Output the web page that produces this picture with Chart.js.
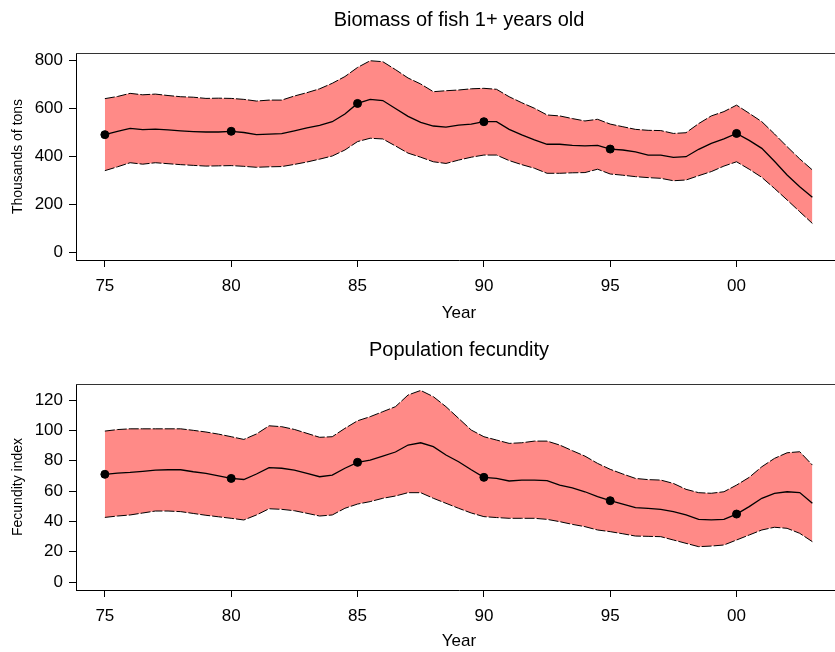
<!DOCTYPE html>
<html>
<head>
<meta charset="utf-8">
<script src="https://cdn.jsdelivr.net/npm/chart.js@4.4.0/dist/chart.umd.min.js"></script>
<style>
html, body { margin: 0; padding: 0; background: #fff; overflow: hidden; width: 835px; height: 652px; }
canvas { display: block; }
</style>
</head>
<body>
<canvas id="biomassChart" width="847" height="326"></canvas>
<canvas id="fecundityChart" width="847" height="326"></canvas>
<script>
// Half-year steps, 1975 to 2003
const years = [1975, 1975.5, 1976, 1976.5, 1977, 1977.5, 1978, 1978.5, 1979, 1979.5,
  1980, 1980.5, 1981, 1981.5, 1982, 1982.5, 1983, 1983.5, 1984, 1984.5,
  1985, 1985.5, 1986, 1986.5, 1987, 1987.5, 1988, 1988.5, 1989, 1989.5,
  1990, 1990.5, 1991, 1991.5, 1992, 1992.5, 1993, 1993.5, 1994, 1994.5,
  1995, 1995.5, 1996, 1996.5, 1997, 1997.5, 1998, 1998.5, 1999, 1999.5,
  2000, 2000.5, 2001, 2001.5, 2002, 2002.5, 2003];

// Biomass of fish 1+ (thousands of tons)
const biomassMid = [489, 503, 515, 510, 512, 509, 505, 502, 500, 500,
  503, 498, 489, 491, 493, 505, 517, 528, 543, 575,
  619, 636, 631, 598, 565, 540, 525, 520, 529, 533,
  543, 543, 511, 488, 467, 449, 449, 444, 442, 444,
  429, 425, 417, 404, 404, 394, 397, 428, 453, 471,
  494, 465, 432, 378, 321, 272, 228];
const biomassUpper = [639, 648, 661, 655, 658, 652, 647, 645, 640, 641,
  640, 636, 629, 633, 633, 650, 664, 680, 703, 731,
  769, 797, 793, 760, 725, 700, 668, 672, 675, 680,
  682, 678, 647, 622, 599, 571, 567, 556, 546, 553,
  533, 522, 511, 507, 506, 494, 497, 535, 567, 585,
  612, 578, 543, 492, 439, 388, 342];
const biomassLower = [339, 355, 372, 366, 372, 368, 364, 361, 358, 359,
  360, 357, 353, 355, 356, 365, 375, 387, 400, 425,
  460, 474, 471, 442, 412, 395, 376, 369, 383, 395,
  404, 404, 381, 364, 349, 328, 328, 330, 331, 345,
  325, 320, 314, 310, 307, 297, 300, 318, 335, 358,
  376, 345, 311, 265, 217, 168, 119];

// Population fecundity index
const fecundMid = [71, 71.8, 72.3, 73, 73.8, 74, 74, 72.7, 71.6, 70,
  68.3, 67.6, 71.2, 75.4, 75, 73.8, 71.6, 69.4, 70.5, 75,
  78.9, 80.4, 83, 85.7, 90.3, 91.8, 89.2, 83.7, 79.3, 74,
  69, 68.3, 66.6, 67.2, 67.2, 66.8, 63.9, 62, 59.5, 56.3,
  53.6, 51.4, 49, 48.5, 47.9, 46.4, 44.2, 41.3, 40.9, 41.3,
  44.8, 49.7, 55.2, 58.5, 59.5, 59, 51.9];
const fecundUpper = [99.5, 100.5, 101, 101, 101, 101, 101, 100, 98.9, 97.5,
  95.8, 94, 97.6, 103, 102.4, 100.6, 98, 95.4, 95.8, 101.3,
  106.3, 109, 112.3, 115.6, 123.3, 126.3, 122.2, 115.6, 107.9, 100.2,
  95.8, 93.6, 91.4, 91.8, 92.9, 92.9, 90.3, 86.6, 83, 78.2,
  74.3, 71.2, 68.3, 67.5, 67.2, 65, 61.1, 58.9, 58.5, 59.5,
  63.9, 69, 76, 81.5, 85.2, 85.9, 77.1];
const fecundLower = [42.6, 43.5, 44.2, 45.5, 46.8, 46.8, 46.4, 45.2, 44, 43,
  42, 40.9, 44.2, 48.3, 47.9, 47, 45.3, 43.5, 44.2, 48.6,
  51.4, 53, 55.2, 56.7, 58.9, 58.9, 55.2, 51.9, 48.6, 45.5,
  43.1, 42.5, 42, 42, 42, 41.3, 39.8, 38, 36.5, 34.3,
  33.2, 31.8, 30.3, 30.1, 29.9, 27.7, 25.5, 23.3, 23.7, 24.4,
  27.7, 31, 34.3, 36.1, 35.4, 32.1, 26.6];

const markYears = [1975, 1980, 1985, 1990, 1995, 2000];
const yearTicks = [1975, 1980, 1985, 1990, 1995, 2000];
const biomassTicks = [0, 200, 400, 600, 800];
const fecundTicks = [0, 20, 40, 60, 80, 100, 120];

Chart.defaults.font.family = '"Liberation Sans", Arial, sans-serif';
Chart.defaults.color = '#000';

// top edge of the plot box (left and bottom come from the axes)
const boxTop = {
  id: 'boxTop',
  afterDraw(chart) {
    const { ctx, chartArea: a } = chart;
    ctx.save();
    ctx.strokeStyle = '#333';
    ctx.lineWidth = 1;
    ctx.beginPath();
    ctx.moveTo(a.left, Math.round(a.top) + 0.5);
    ctx.lineTo(a.right, Math.round(a.top) + 0.5);
    ctx.stroke();
    ctx.restore();
  }
};

function pts(vals) {
  return years.map((x, i) => ({ x: x, y: vals[i] }));
}

function createPanel(canvasId, p) {
  const ctx = document.getElementById(canvasId).getContext('2d');
  const marks = markYears.map(y => ({ x: y, y: p.mid[years.indexOf(y)] }));
  new Chart(ctx, {
    type: 'line',
    data: {
      datasets: [
        { data: pts(p.mid), borderColor: '#000', borderWidth: 1.3, pointRadius: 0, fill: false },
        { data: marks, showLine: false, pointRadius: 4, pointBackgroundColor: '#000', pointBorderColor: '#000', fill: false },
        { data: pts(p.upper), borderColor: '#000', borderWidth: 1, borderDash: [10, 2], pointRadius: 0,
          fill: '+1', backgroundColor: '#ff8a87' },
        { data: pts(p.lower), borderColor: '#000', borderWidth: 1, borderDash: [10, 2], pointRadius: 0, fill: false }
      ]
    },
    options: {
      responsive: false,
      animation: false,
      layout: { padding: 0 },
      plugins: {
        legend: { display: false },
        tooltip: { enabled: false },
        filler: { drawTime: 'beforeDatasetsDraw' },
        title: {
          display: true,
          text: p.title,
          fullSize: false,
          font: { size: 20, weight: 'normal' },
          padding: { top: p.titleTop, bottom: p.titleBottom }
        }
      },
      scales: {
        x: {
          type: 'linear',
          min: 1973.858,
          max: 2004.173,
          afterBuildTicks: s => { s.ticks = yearTicks.map(v => ({ value: v })); },
          afterFit: s => { s.height = p.xHeight; },
          ticks: {
            font: { size: 17 },
            padding: 9,
            maxRotation: 0,
            callback: v => String(v % 100).padStart(2, '0')
          },
          grid: { drawOnChartArea: false, tickLength: 7, color: '#000' },
          border: { color: '#000', width: 1 },
          title: { display: true, text: 'Year', font: { size: 17 }, padding: { top: 0, bottom: p.yearPad } }
        },
        y: {
          min: p.yMin,
          max: p.yMax,
          afterBuildTicks: s => { s.ticks = p.ticks.map(v => ({ value: v })); },
          afterFit: s => { s.width = 76; },
          ticks: { font: { size: 17 }, padding: 6 },
          grid: { drawOnChartArea: false, tickLength: 7, color: '#000' },
          border: { color: '#000', width: 1 },
          title: { display: true, text: p.yTitle, font: { size: 14 }, padding: { top: 10, bottom: 0 } }
        }
      }
    },
    plugins: [boxTop]
  });
}

createPanel('biomassChart', {
  title: 'Biomass of fish 1+ years old',
  yTitle: 'Thousands of tons',
  mid: biomassMid, upper: biomassUpper, lower: biomassLower,
  ticks: biomassTicks,
  yMin: -33.3, yMax: 829.2,
  titleTop: 8, titleBottom: 21,
  xHeight: 66, yearPad: 2
});

createPanel('fecundityChart', {
  title: 'Population fecundity',
  yTitle: 'Fecundity index',
  mid: fecundMid, upper: fecundUpper, lower: fecundLower,
  ticks: fecundTicks,
  yMin: -5.27, yMax: 130.55,
  titleTop: 12, titleBottom: 22,
  xHeight: 62, yearPad: 0
});
</script>
</body>
</html>
